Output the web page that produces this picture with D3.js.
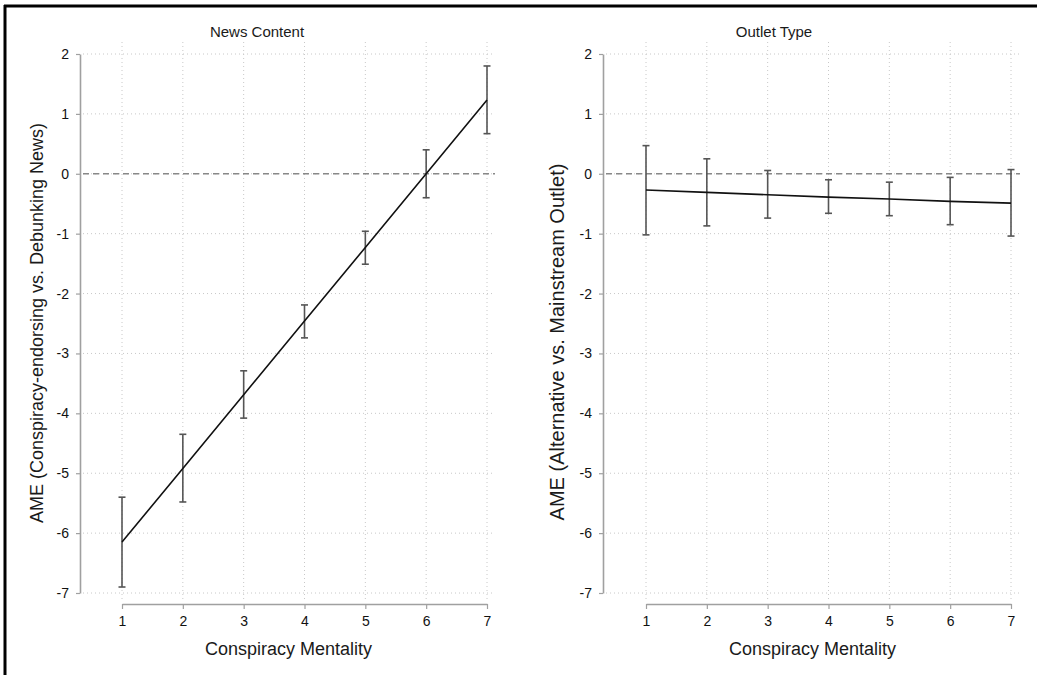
<!DOCTYPE html>
<html>
<head>
<meta charset="utf-8">
<script src="https://cdn.jsdelivr.net/npm/d3@7"></script>
<style>
  body { margin: 0; background: #fff; }
  svg { display: block; font-family: "Liberation Sans", Arial, sans-serif; }
</style>
</head>
<body>
<div id="chart"></div>
<script>
var width = 1037;
var height = 675;

// values
var mentality = [1, 2, 3, 4, 5, 6, 7];
var yTicks = [2, 1, 0, -1, -2, -3, -4, -5, -6, -7];

var newsEst = [-6.15, -4.92, -3.69, -2.46, -1.23, 0.0, 1.23];
var newsLo = [-6.90, -5.48, -4.08, -2.74, -1.51, -0.40, 0.67];
var newsHi = [-5.40, -4.35, -3.29, -2.19, -0.96, 0.40, 1.80];

var outletEst = [-0.27, -0.31, -0.35, -0.39, -0.42, -0.46, -0.49];
var outletLo = [-1.02, -0.87, -0.74, -0.66, -0.70, -0.85, -1.04];
var outletHi = [0.47, 0.25, 0.055, -0.10, -0.14, -0.06, 0.07];

var panels = [
    {title: "News Content", ylabel: "AME (Conspiracy-endorsing vs. Debunking News)",
     est: newsEst, lo: newsLo, hi: newsHi,
     axisX: 80, x0: 122, x1: 487, gridEnd: 495, titleX: 257,
     ylabelX: 43, ylabelY: 323, ylabelSize: 18},
    {title: "Outlet Type", ylabel: "AME (Alternative vs. Mainstream Outlet)",
     est: outletEst, lo: outletLo, hi: outletHi,
     axisX: 603, x0: 646, x1: 1011, gridEnd: 1020, titleX: 774,
     ylabelX: 564, ylabelY: 342, ylabelSize: 20}
];

var svg = d3.select("#chart").append("svg")
    .attr("width", width)
    .attr("height", height);

// frame (only top and left edges show in the picture)
svg.append("line").attr("x1", 4).attr("x2", width).attr("y1", 6).attr("y2", 6)
    .attr("stroke", "#000").attr("stroke-width", 3);
svg.append("line").attr("x1", 5).attr("x2", 5).attr("y1", 5).attr("y2", height)
    .attr("stroke", "#000").attr("stroke-width", 3);

var y = d3.scaleLinear().domain([-7, 2]).range([593, 54]);

panels.forEach(function (p) {
    var x = d3.scaleLinear().domain([1, 7]).range([p.x0, p.x1]);
    var g = svg.append("g");

    // grid
    g.selectAll(".hgrid").data(yTicks).enter().append("line")
        .attr("x1", p.axisX + 3).attr("x2", p.gridEnd)
        .attr("y1", function (d) { return y(d); })
        .attr("y2", function (d) { return y(d); })
        .attr("stroke", "#c8c8c8").attr("stroke-width", 1)
        .attr("stroke-dasharray", "1,3");
    g.selectAll(".vgrid").data(mentality).enter().append("line")
        .attr("x1", function (d) { return x(d); })
        .attr("x2", function (d) { return x(d); })
        .attr("y1", 42).attr("y2", 600)
        .attr("stroke", "#c8c8c8").attr("stroke-width", 1)
        .attr("stroke-dasharray", "1,3");

    // zero reference
    g.append("line")
        .attr("x1", p.axisX + 3).attr("x2", p.gridEnd)
        .attr("y1", y(0)).attr("y2", y(0))
        .attr("stroke", "#888").attr("stroke-width", 1.5)
        .attr("stroke-dasharray", "6,4");

    // axes
    var ya = g.append("g")
        .attr("transform", "translate(" + p.axisX + ",0)")
        .call(d3.axisLeft(y).tickValues(yTicks).tickSize(4).tickSizeOuter(0).tickPadding(7)
            .tickFormat(function (d) { return String(d); }));
    var xa = g.append("g")
        .attr("transform", "translate(0,604)")
        .call(d3.axisBottom(x).tickValues(mentality).tickSize(5).tickSizeOuter(0).tickPadding(7)
            .tickFormat(function (d) { return String(d); }));
    [ya, xa].forEach(function (a) {
        a.select(".domain").attr("stroke", "#a0a0a0").attr("stroke-width", 1.6);
        a.selectAll(".tick line").attr("stroke", "#a0a0a0").attr("stroke-width", 1.2);
        a.selectAll(".tick text").attr("fill", "#111").style("font-size", "14px")
            .style("font-family", "'Liberation Sans', Arial, sans-serif");
    });

    // error bars
    var bars = g.selectAll(".ci").data(mentality).enter().append("g")
        .attr("stroke", "#555").attr("stroke-width", 1.6);
    bars.append("line")
        .attr("x1", function (d) { return x(d); })
        .attr("x2", function (d) { return x(d); })
        .attr("y1", function (d, i) { return y(p.lo[i]); })
        .attr("y2", function (d, i) { return y(p.hi[i]); });
    bars.append("line")
        .attr("x1", function (d) { return x(d) - 3.5; })
        .attr("x2", function (d) { return x(d) + 3.5; })
        .attr("y1", function (d, i) { return y(p.lo[i]); })
        .attr("y2", function (d, i) { return y(p.lo[i]); });
    bars.append("line")
        .attr("x1", function (d) { return x(d) - 3.5; })
        .attr("x2", function (d) { return x(d) + 3.5; })
        .attr("y1", function (d, i) { return y(p.hi[i]); })
        .attr("y2", function (d, i) { return y(p.hi[i]); });

    // estimate line
    var line = d3.line()
        .x(function (d) { return x(d); })
        .y(function (d, i) { return y(p.est[i]); });
    g.append("path").datum(mentality)
        .attr("d", line)
        .attr("fill", "none").attr("stroke", "#111").attr("stroke-width", 1.6);

    // texts
    g.append("text").attr("x", p.titleX).attr("y", 37)
        .attr("text-anchor", "middle").attr("fill", "#1a1a1a")
        .style("font-size", "15px").text(p.title);
    g.append("text").attr("x", (p.axisX + 2 + p.gridEnd) / 2).attr("y", 655)
        .attr("text-anchor", "middle").attr("fill", "#1a1a1a")
        .style("font-size", "18px").text("Conspiracy Mentality");
    g.append("text")
        .attr("transform", "translate(" + p.ylabelX + "," + p.ylabelY + ") rotate(-90)")
        .attr("text-anchor", "middle").attr("fill", "#1a1a1a")
        .style("font-size", p.ylabelSize + "px").text(p.ylabel);
});
</script>
</body>
</html>
